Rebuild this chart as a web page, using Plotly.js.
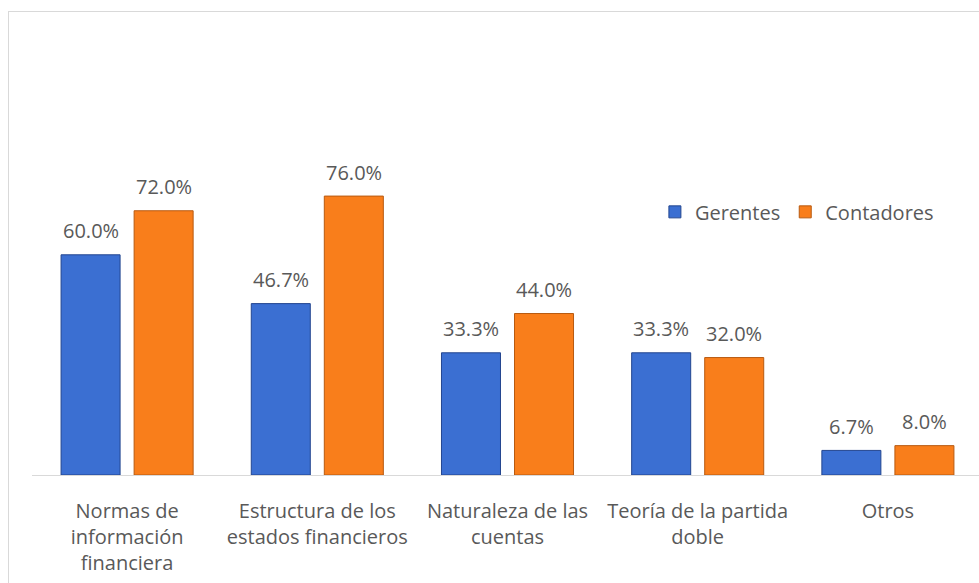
<!DOCTYPE html>
<html>
<head>
<meta charset="utf-8">
<script src="https://cdn.plot.ly/plotly-3.0.1.min.js"></script>
<style>
  html, body { margin: 0; padding: 0; overflow: hidden; background: #ffffff; }
  #wrap { position: relative; width: 979px; height: 583px; overflow: hidden; }
  #chart { position: absolute; left: 0; top: 0; width: 984px; height: 583px; }
  #frame { position: absolute; left: 8px; top: 11px; width: 1000px; height: 1000px;
           border: 1px solid #d9d9d9; pointer-events: none; box-sizing: border-box; }
</style>
</head>
<body>
<div id="wrap">
  <div id="chart"></div>
  <div id="frame"></div>
</div>
<script>
const categories = [
  "Normas de<br>información<br>financiera",
  "Estructura de los<br>estados financieros",
  "Naturaleza de las<br>cuentas",
  "Teoría de la partida<br>doble",
  "Otros"
];
const gerentes = [60.0, 46.7, 33.3, 33.3, 6.7];
const contadores = [72.0, 76.0, 44.0, 32.0, 8.0];
const seriesNames = ["Gerentes", "Contadores"];

const FONT = "Open Sans, Noto Sans, sans-serif";
const GREY = "#595959";

const traces = [
  {
    type: "bar", name: seriesNames[0], x: categories, y: gerentes,
    marker: { color: "#3B6FD2", line: { color: "#23458F", width: 1 } },
    hoverinfo: "none"
  },
  {
    type: "bar", name: seriesNames[1], x: categories, y: contadores,
    marker: { color: "#F97E1B", line: { color: "#B85A10", width: 1 } },
    hoverinfo: "none"
  }
];

const annotations = [];
const sets = [[gerentes, -36.5], [contadores, 36.5]];
sets.forEach(([vals, dx]) => {
  vals.forEach((v, i) => {
    annotations.push({
      x: categories[i], y: v, xref: "x", yref: "y",
      text: v.toFixed(1) + "%", showarrow: false,
      xshift: dx, yshift: 24, yanchor: "middle",
      font: { family: FONT, size: 20, color: GREY }
    });
  });
});

const layout = {
  width: 984, height: 583,
  margin: { l: 32, r: 1, t: 108, b: 108 },
  paper_bgcolor: "rgba(0,0,0,0)",
  plot_bgcolor: "rgba(0,0,0,0)",
  barmode: "group",
  bargap: 0.232,
  bargroupgap: 0.192,
  showlegend: true,
  legend: {
    orientation: "h", x: 0.655, xanchor: "left", y: 0.717, yanchor: "middle",
    font: { family: FONT, size: 20, color: GREY },
    itemwidth: 30, traceorder: "normal", bgcolor: "rgba(0,0,0,0)"
  },
  xaxis: {
    type: "category",
    showline: true, linecolor: "#d9d9d9", linewidth: 1,
    showgrid: false, zeroline: false, ticks: "",
    ticklabelstandoff: 18,
    tickfont: { family: FONT, size: 20, color: GREY }
  },
  yaxis: {
    range: [0, 100], visible: false, showgrid: false, zeroline: false, fixedrange: true
  },
  annotations: annotations
};

Plotly.newPlot("chart", traces, layout, { displayModeBar: false, staticPlot: true });
</script>
</body>
</html>
